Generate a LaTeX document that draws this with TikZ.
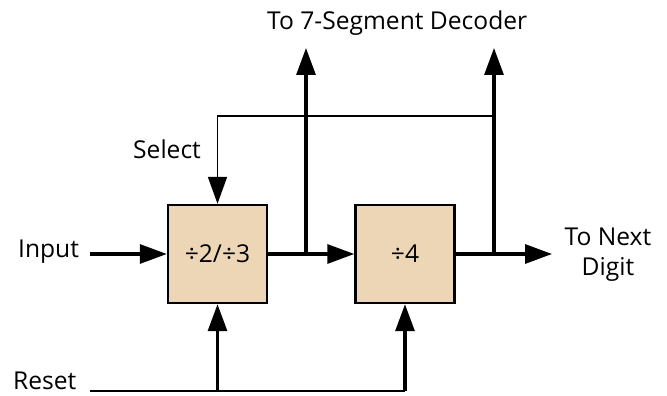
\documentclass[tikz,border=0pt]{standalone}
\usepackage{fontspec}
\setmainfont{Open Sans}
\usepackage{xcolor}
\usetikzlibrary{arrows.meta,positioning}
\definecolor{divider_tan}{HTML}{ECD6B6}

\begin{document}
\begin{tikzpicture}[x=1pt, y=-1pt, every node/.style={font=\fontsize{24.6}{30}\selectfont}]
    % Styles
    \tikzstyle{divider} = [rectangle, draw=black, line width=2.4pt, fill=divider_tan, minimum width=99pt, minimum height=98pt, inner sep=0pt]
    \tikzstyle{sigtext} = [inner sep=0pt]
    \tikzstyle{signal} = [line width=3.2pt, -{Triangle[length=27pt, width=19pt]}]
    \tikzstyle{control} = [line width=1.8pt]

    \useasboundingbox (0,0) rectangle (667,396);

    % Nodes: Dividers
    \node[divider] (D1) at (217.5,254) {÷2/÷3};
    \node[divider] (D2) at (405,254) {÷4};

    % Nodes: Texts
    \node[sigtext, anchor=base west] (input) at (18,257) {Input};
    \node[sigtext, anchor=base west] (select) at (133,158) {Select};
    \node[sigtext, anchor=base west] (reset) at (13,389) {Reset};
    \node[sigtext, anchor=base west] (decoder) at (267,30) {To 7-Segment Decoder};
    \node[sigtext, anchor=north, align=center] (next) at (608,228) {To Next\\Digit};

    % Coordinates: free ends and junctions
    \coordinate (in) at (90,254);
    \coordinate (j1) at (306,254);
    \coordinate (j2) at (494,254);
    \coordinate (out1) at (306,48);
    \coordinate (out2) at (494,48);
    \coordinate (sel) at (494,116);
    \coordinate (rst) at (90,391);
    \coordinate (tip) at (552,254);

    % Signal edges
    \draw[signal] (in) -- (D1.west);
    \draw[signal] (D1.east) -- (D2.west);
    \draw[signal] (D2.east) -- (tip);
    \draw[signal] (j1) -- (out1);
    \draw[signal] (j2) -- (out2);

    % Select edge
    \draw[control, -{Triangle[length=27pt, width=19pt]}] (sel) -| (D1.north);

    % Reset edges
    \draw[control] (rst) -- (D2.south |- rst);
    \draw[signal] (D1.south |- rst) -- (D1.south);
    \draw[signal] (D2.south |- rst) -- (D2.south);
\end{tikzpicture}
\end{document}
